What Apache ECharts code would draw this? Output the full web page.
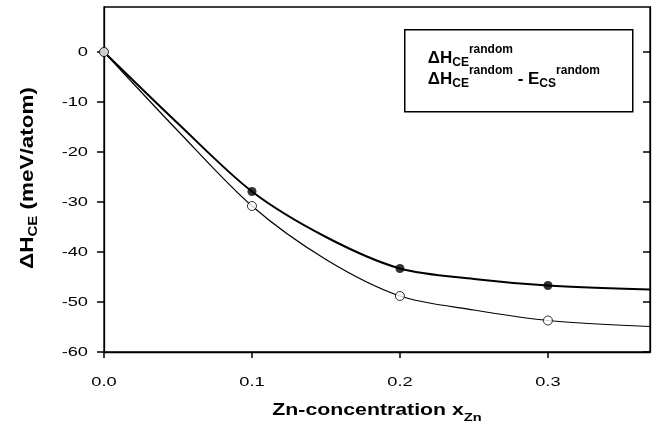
<!DOCTYPE html>
<html>
<head>
<meta charset="utf-8">
<script src="https://cdn.jsdelivr.net/npm/echarts@6/dist/echarts.min.js"></script>
<style>
html,body{margin:0;padding:0;background:#fff;}
#chart{width:662px;height:431px;}
</style>
</head>
<body>
<div id="chart"></div>
<script>
// ---- data ----
const xTicks = [0, 0.1, 0.2, 0.3];
const xTickLabels = ['0.0', '0.1', '0.2', '0.3'];
const yTicks = [0, -10, -20, -30, -40, -50, -60];
const yTickLabels = ['0', '-10', '-20', '-30', '-40', '-50', '-60'];

// computed points (markers)
const concentrations = [0, 0.1, 0.2, 0.3];
const dHce = [0, -27.9, -43.3, -46.7];
const dHceMinusEcs = [0, -30.8, -48.8, -53.7];

// fitted curves
const curveX = [0, 0.05, 0.1, 0.15, 0.2, 0.25, 0.3, 0.369];
const dHceCurve = [0, -14.3, -27.9, -37.0, -43.3, -45.4, -46.7, -47.5];
const dHceMinusEcsCurve = [0, -15.8, -30.8, -41.5, -48.8, -51.6, -53.7, -54.9];

const FONT = '"Liberation Sans", Arial, sans-serif';
const pair = (xs, ys) => xs.map((x, i) => [x, ys[i]]);

const chart = echarts.init(document.getElementById('chart'), null, {renderer: 'canvas'});

const legendRich = {
  m: {fontFamily: FONT, fontWeight: 'bold', fontSize: 17, color: '#000', lineHeight: 30, verticalAlign: 'middle'},
  sub: {fontFamily: FONT, fontWeight: 'bold', fontSize: 12, color: '#000', lineHeight: 22, height: 22, verticalAlign: 'bottom'},
  sup: {fontFamily: FONT, fontWeight: 'bold', fontSize: 12, color: '#000', lineHeight: 12, height: 12, verticalAlign: 'top'}
};

chart.setOption({
  backgroundColor: '#fff',
  animation: false,
  grid: {left: 104, right: 12, top: 7, bottom: 79, show: true, borderColor: '#000', borderWidth: 1.3, backgroundColor: 'transparent'},
  xAxis: [{
    type: 'value', min: 0, max: 0.369,
    axisLine: {show: true, onZero: false, lineStyle: {color: '#000', width: 1.3}},
    axisTick: {show: true, inside: false, length: 6, lineStyle: {color: '#000', width: 1.5}, customValues: xTicks},
    axisLabel: {show: false},
    splitLine: {show: false}
  }],
  yAxis: [{
    type: 'value', min: -60, max: 9,
    axisLine: {show: true, onZero: false, lineStyle: {color: '#000', width: 1.3}},
    axisTick: {show: true, inside: false, length: 7, lineStyle: {color: '#000', width: 1.5}, customValues: yTicks},
    axisLabel: {show: false},
    splitLine: {show: false}
  }, {
    type: 'value', min: -60, max: 9, position: 'right',
    axisLine: {show: true, onZero: false, lineStyle: {color: '#000', width: 1.3}},
    axisTick: {show: true, inside: true, length: 7, lineStyle: {color: '#000', width: 1.5}, customValues: yTicks},
    axisLabel: {show: false},
    splitLine: {show: false}
  }],
  series: [
    {type: 'line', data: pair(curveX, dHceCurve), smooth: 0.3, showSymbol: false, symbol: 'none',
      lineStyle: {color: '#000', width: 2}, z: 2},
    {type: 'line', data: pair(curveX, dHceMinusEcsCurve), smooth: 0.3, showSymbol: false, symbol: 'none',
      lineStyle: {color: '#000', width: 1.2}, z: 2},
    {type: 'scatter', data: pair(concentrations, dHce), symbol: 'circle', symbolSize: 9,
      itemStyle: {color: '#000', borderColor: '#000', borderWidth: 0}, z: 3},
    {type: 'scatter', data: pair(concentrations, dHceMinusEcs), symbol: 'circle', symbolSize: 9,
      itemStyle: {color: '#fff', borderColor: '#000', borderWidth: 1}, z: 4}
  ]
});

// tick labels and titles: the reference type is set wide, so the text is stretched along its direction
const TICK_FONT = '13.5px ' + FONT;
const STRETCH = 1.35;
const graphics = [];
xTicks.forEach((v, i) => {
  graphics.push({type: 'text', x: chart.convertToPixel({xAxisIndex: 0}, v), y: 382, scaleX: STRETCH, silent: true,
    style: {text: xTickLabels[i], font: TICK_FONT, fill: '#000', align: 'center', verticalAlign: 'middle'}});
});
yTicks.forEach((v, i) => {
  graphics.push({type: 'text', x: 88, y: chart.convertToPixel({yAxisIndex: 0}, v), scaleX: STRETCH, silent: true,
    style: {text: yTickLabels[i], font: TICK_FONT, fill: '#000', align: 'right', verticalAlign: 'middle'}});
});
graphics.push({
  type: 'text', x: 377, y: 411, scaleX: 1.33, silent: true,
  style: {text: '{a|Zn-concentration x}{b|Zn}', align: 'center', verticalAlign: 'middle', rich: {
    a: {fontFamily: FONT, fontWeight: 'bold', fontSize: 16, color: '#000', lineHeight: 26, verticalAlign: 'middle'},
    b: {fontFamily: FONT, fontWeight: 'bold', fontSize: 11, color: '#000', lineHeight: 13, height: 13, verticalAlign: 'bottom'}
  }}
});
graphics.push({
  type: 'text', x: 28, y: 178, rotation: Math.PI / 2, scaleX: 1.25, silent: true,
  style: {text: '{a|ΔH}{b|CE}{a| (meV/atom)}', align: 'center', verticalAlign: 'middle', rich: {
    a: {fontFamily: FONT, fontWeight: 'bold', fontSize: 18, color: '#000', lineHeight: 28, verticalAlign: 'middle'},
    b: {fontFamily: FONT, fontWeight: 'bold', fontSize: 12, color: '#000', lineHeight: 16, height: 16, verticalAlign: 'bottom'}
  }}
});
graphics.push({
  type: 'group', left: 404, top: 29,
  children: [
    {type: 'rect', shape: {x: 0, y: 0, width: 228, height: 82}, style: {fill: '#fff', stroke: '#000', lineWidth: 1.5}},
    {type: 'text', x: 23, y: 14, style: {text: '{m|ΔH}{sub|CE}{sup|random}', rich: legendRich, textVerticalAlign: 'top'}},
    {type: 'text', x: 23, y: 35, style: {text: '{m|ΔH}{sub|CE}{sup|random}{m| - E}{sub|CS}{sup|random}', rich: legendRich, textVerticalAlign: 'top'}}
  ]
});
chart.setOption({graphic: graphics});
</script>
</body>
</html>
